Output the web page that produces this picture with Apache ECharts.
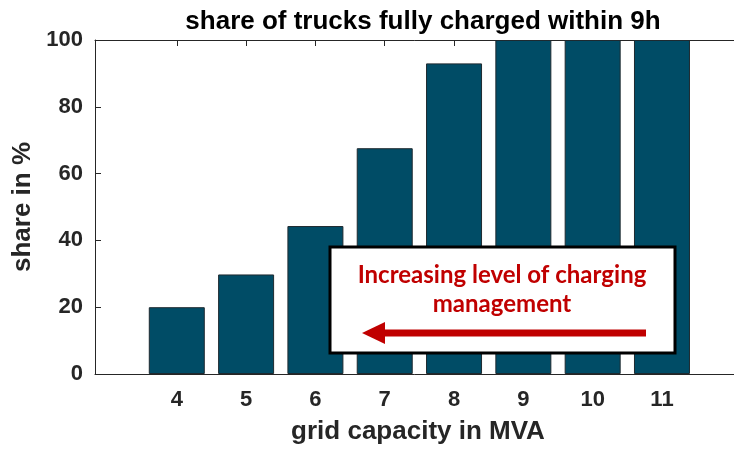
<!DOCTYPE html>
<html>
<head>
<meta charset="utf-8">
<script src="https://cdn.jsdelivr.net/npm/echarts@6/dist/echarts.min.js"></script>
<style>
  html, body { margin: 0; padding: 0; background: #fff; }
  #chart { width: 734px; height: 449px; }
</style>
</head>
<body>
<div id="chart"></div>
<script>
// grid capacity (MVA) and share of trucks fully charged within 9h (%)
const capacities = [4, 5, 6, 7, 8, 9, 10, 11];
const shares = [20, 29.8, 44.3, 67.6, 93.0, 100, 100, 100];
const yTicks = [0, 20, 40, 60, 80, 100];

const axisColor = "#262626";
const barColor = "#004c66";
const font = "'Liberation Sans', Arial, sans-serif";

const myChart = echarts.init(document.getElementById("chart"));

const option = {
  animation: false,
  title: {
    text: "share of trucks fully charged within 9h",
    left: 418,
    top: 4,
    textAlign: "center",
    textStyle: {
      fontFamily: font,
      fontSize: 26,
      fontWeight: "bold",
      color: "#000",
    },
  },
  grid: {
    left: 95,
    top: 40,
    width: 646,
    height: 334,
    outerBoundsMode: "none",
    containLabel: false,
  },
  xAxis: [
    {
      type: "value",
      min: 2.82,
      max: 12.14,
      name: "grid capacity in MVA",
      nameLocation: "middle",
      nameGap: 45,
      nameTextStyle: {
        fontFamily: font,
        fontSize: 26,
        fontWeight: "bold",
        color: axisColor,
      },
      axisLine: { show: true, lineStyle: { color: axisColor, width: 1 } },
      axisTick: {
        show: true,
        inside: true,
        length: 6,
        customValues: capacities,
        lineStyle: { color: axisColor },
      },
      axisLabel: {
        customValues: capacities,
        margin: 15,
        fontFamily: font,
        fontSize: 22,
        fontWeight: "bold",
        color: axisColor,
      },
      splitLine: { show: false },
    },
    {
      type: "value",
      position: "top",
      min: 2.82,
      max: 12.14,
      axisLine: { show: true, lineStyle: { color: axisColor, width: 1 } },
      axisTick: {
        show: true,
        inside: true,
        length: 6,
        customValues: capacities,
        lineStyle: { color: axisColor },
      },
      axisLabel: { show: false },
      splitLine: { show: false },
    },
  ],
  yAxis: {
    type: "value",
    min: 0,
    max: 100,
    interval: 20,
    name: "share in %",
    nameLocation: "middle",
    nameGap: 58,
    nameTextStyle: {
      fontFamily: font,
      fontSize: 26,
      fontWeight: "bold",
      color: axisColor,
    },
    axisLine: { show: true, lineStyle: { color: axisColor, width: 1 } },
    axisTick: { show: true, inside: true, length: 6, lineStyle: { color: axisColor } },
    axisLabel: {
      margin: 12,
      fontFamily: font,
      fontSize: 22,
      fontWeight: "bold",
      color: axisColor,
      formatter: (v) => (yTicks.includes(v) ? String(v) : ""),
    },
    splitLine: { show: false },
  },
  series: [
    {
      type: "bar",
      xAxisIndex: 0,
      barWidth: 56,
      data: capacities.map((c, i) => [c, shares[i]]),
      itemStyle: {
        color: barColor,
        borderColor: "#1e2a30",
        borderWidth: 1,
      },
    },
  ],
  graphic: [
    {
      type: "rect",
      z: 100,
      shape: { x: 330, y: 247, width: 345, height: 106 },
      style: { fill: "#fff", stroke: "#000", lineWidth: 3 },
    },
    {
      type: "text",
      z: 101,
      x: 502,
      y: 261,
      style: {
        text: "Increasing level of charging\nmanagement",
        fill: "#c00000",
        font: "bold 24px Lato, sans-serif",
        align: "center",
        verticalAlign: "top",
        lineHeight: 29,
      },
    },
    {
      type: "rect",
      z: 101,
      shape: { x: 380, y: 329.5, width: 266, height: 7 },
      style: { fill: "#c00000" },
    },
    {
      type: "polygon",
      z: 101,
      shape: { points: [[362, 333], [385, 322], [385, 344]] },
      style: { fill: "#c00000" },
    },
  ],
};

myChart.setOption(option);
</script>
</body>
</html>
